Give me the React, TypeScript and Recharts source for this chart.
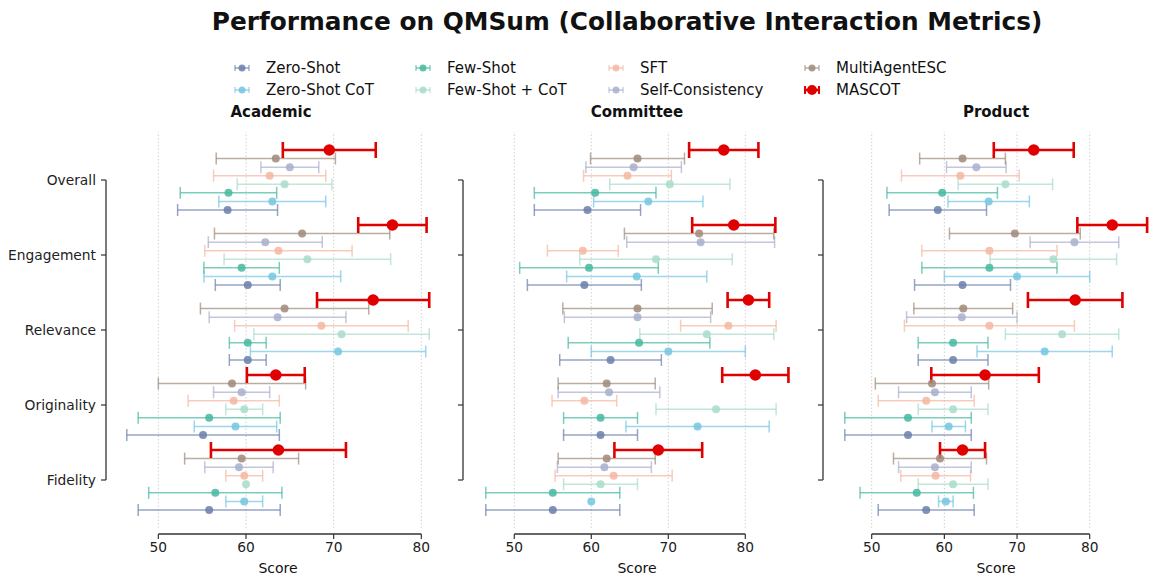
import { ScatterChart, Scatter, XAxis, YAxis, ErrorBar, ReferenceLine } from "recharts";

const FONT = '"DejaVu Sans", sans-serif';

const methods = ["Zero-Shot", "Zero-Shot CoT", "Few-Shot", "Few-Shot + CoT", "SFT", "Self-Consistency", "MultiAgentESC", "MASCOT"];
const colors = ["#6b7fab", "#74c6e0", "#45b8a0", "#a8dccb", "#f5b6a0", "#a9afcc", "#a08a7a", "#e00000"];
const metrics = ["Overall", "Engagement", "Relevance", "Originality", "Fidelity"];
const xTicks = [50, 60, 70, 80];

// rows: methods, columns: metrics
const academicScores = [
  [57.9, 60.2, 60.2, 55.1, 55.8],
  [63.0, 63.0, 70.5, 58.8, 59.8],
  [58.0, 59.5, 60.2, 55.8, 56.5],
  [64.4, 67.0, 70.9, 59.8, 60.0],
  [62.7, 63.7, 68.6, 58.6, 59.8],
  [65.0, 62.2, 63.6, 59.5, 59.2],
  [63.4, 66.4, 64.4, 58.4, 59.5],
  [69.5, 76.7, 74.5, 63.4, 63.7],
];
const academicErrors = [
  [5.7, 3.7, 2.1, 8.7, 8.1],
  [6.1, 7.8, 10.0, 4.7, 2.1],
  [5.5, 4.3, 2.1, 8.1, 7.6],
  [5.4, 9.5, 10.0, 2.1, 0],
  [6.4, 8.4, 9.9, 5.2, 2.1],
  [3.3, 6.5, 7.8, 3.2, 3.9],
  [6.8, 10.0, 9.6, 8.4, 6.5],
  [5.3, 3.9, 6.4, 3.3, 7.7],
];

const committeeScores = [
  [59.5, 59.1, 62.5, 61.2, 55.0],
  [67.4, 65.9, 70.0, 73.8, 60.0],
  [60.5, 59.7, 66.2, 61.2, 55.0],
  [70.2, 68.4, 75.0, 76.2, 61.2],
  [64.7, 58.9, 77.8, 59.1, 62.9],
  [65.5, 74.2, 66.0, 62.3, 61.7],
  [66.0, 74.0, 66.0, 62.0, 62.0],
  [77.2, 78.5, 80.4, 81.3, 68.7],
];
const committeeErrors = [
  [6.9, 7.4, 6.6, 4.8, 8.7],
  [7.1, 9.1, 10.0, 9.3, 0],
  [7.9, 9.0, 9.2, 4.8, 8.7],
  [7.8, 9.9, 8.7, 7.8, 4.8],
  [5.7, 4.6, 6.2, 4.2, 7.6],
  [6.2, 9.6, 9.5, 6.6, 6.1],
  [6.1, 9.7, 9.7, 6.3, 6.3],
  [4.5, 5.4, 2.7, 4.3, 5.7],
];

const productScores = [
  [59.1, 62.5, 61.2, 55.0, 57.5],
  [66.1, 70.0, 73.8, 60.6, 60.2],
  [59.7, 66.2, 61.2, 55.0, 56.2],
  [68.4, 75.0, 76.2, 61.2, 61.2],
  [62.2, 66.2, 66.2, 57.5, 58.8],
  [64.4, 77.9, 62.4, 58.7, 58.7],
  [62.5, 69.7, 62.6, 58.3, 59.4],
  [72.3, 83.1, 78.0, 65.6, 62.5],
];
const productErrors = [
  [6.7, 6.6, 4.8, 8.7, 6.6],
  [5.6, 10.0, 9.3, 2.3, 1.0],
  [7.6, 9.3, 4.8, 8.7, 7.8],
  [6.5, 8.7, 7.8, 4.8, 4.8],
  [8.1, 9.3, 11.7, 6.6, 4.8],
  [4.1, 6.1, 7.6, 5.0, 5.0],
  [5.9, 9.0, 6.8, 7.8, 6.4],
  [5.5, 4.8, 6.5, 7.4, 3.1],
];

const Y_DOMAIN: [number, number] = [-0.72, 4.64];
const AXES_BOTTOM = -0.64;

const rowsFor = (scores: number[][], errors: number[][], m: number) =>
  metrics.map((_, k) => ({
    x: scores[m][k],
    y: 4 - k + (-0.4 + (m * 0.8) / 7),
    err: errors[m][k],
  }));

type PanelProps = {
  scores: number[][];
  errors: number[][];
  width: number;
  yAxisWidth: number;
  domain: [number, number];
  showLabels: boolean;
};

function Panel({ scores, errors, width, yAxisWidth, domain, showLabels }: PanelProps) {
  return (
    <ScatterChart width={width} height={578} margin={{ top: 132, right: 0, bottom: 14, left: 0 }}>
      <XAxis
        type="number"
        dataKey="x"
        domain={domain}
        allowDataOverflow
        ticks={xTicks}
        axisLine={false}
        tickSize={5}
        tickMargin={3}
        tickLine={{ stroke: "#333", strokeWidth: 1.2 }}
        tick={{ fill: "#222", fontSize: 13.8, fontFamily: FONT }}
        height={30}
      />
      <YAxis
        type="number"
        dataKey="y"
        domain={Y_DOMAIN}
        allowDataOverflow
        ticks={[0, 1, 2, 3, 4]}
        width={yAxisWidth}
        axisLine={false}
        tickSize={5}
        tickMargin={5}
        tickLine={{ stroke: "#333", strokeWidth: 1.2 }}
        tickFormatter={(v: number) => (showLabels ? metrics[4 - v] : "")}
        tick={{ fill: "#222", fontSize: 13.8, fontFamily: FONT }}
      />
      {xTicks.map((t) => (
        <ReferenceLine
          key={t}
          segment={[{ x: t, y: AXES_BOTTOM }, { x: t, y: Y_DOMAIN[1] }]}
          stroke="#cccccc"
          strokeWidth={0.9}
          strokeDasharray="1.5 2"
          ifOverflow="visible"
        />
      ))}
      <ReferenceLine
        segment={[{ x: domain[0], y: 0 }, { x: domain[0], y: 4 }]}
        stroke="#333"
        strokeWidth={1.3}
        ifOverflow="visible"
      />
      <ReferenceLine
        segment={[{ x: 50, y: Y_DOMAIN[0] }, { x: 80, y: Y_DOMAIN[0] }]}
        stroke="#333"
        strokeWidth={1.3}
        ifOverflow="visible"
      />
      {methods.map((name, m) => {
        const main = name === "MASCOT";
        return (
          <Scatter
            key={name}
            name={name}
            data={rowsFor(scores, errors, m)}
            isAnimationActive={false}
            shape={(p: any) => (
              <circle cx={p.cx} cy={p.cy} r={main ? 5.8 : 4} fill={colors[m]} fillOpacity={main ? 1 : 0.85} />
            )}
          >
            <ErrorBar
              dataKey="err"
              direction="x"
              width={main ? 8 : 6}
              stroke={colors[m]}
              strokeWidth={main ? 2.6 : 1.5}
              strokeOpacity={main ? 1 : 0.7}
              isAnimationActive={false}
            />
          </Scatter>
        );
      })}
    </ScatterChart>
  );
}

const panels = [
  { title: "Academic", scores: academicScores, errors: academicErrors, left: 0, width: 450, yAxisWidth: 106, domain: [44.03, 83.27] as [number, number], titleX: 271, labelX: 278 },
  { title: "Committee", scores: committeeScores, errors: committeeErrors, left: 455, width: 353, yAxisWidth: 8, domain: [43.34, 88.14] as [number, number], titleX: 637, labelX: 637 },
  { title: "Product", scores: productScores, errors: productErrors, left: 815, width: 338, yAxisWidth: 8, domain: [43.3, 88.71] as [number, number], titleX: 996, labelX: 996 },
];

const legendCols = [266, 447, 640, 836];
const legendRows = [68, 90];

function LegendMarker({ color, main }: { color: string; main: boolean }) {
  return (
    <svg width={20} height={14} style={{ position: "absolute", left: -34, top: -7 }}>
      <line x1={3} y1={7} x2={17} y2={7} stroke={color} strokeWidth={main ? 2.6 : 1.5} strokeOpacity={main ? 1 : 0.7} />
      <line x1={3} y1={main ? 3 : 4} x2={3} y2={main ? 11 : 10} stroke={color} strokeWidth={main ? 2 : 1.3} strokeOpacity={main ? 1 : 0.7} />
      <line x1={17} y1={main ? 3 : 4} x2={17} y2={main ? 11 : 10} stroke={color} strokeWidth={main ? 2 : 1.3} strokeOpacity={main ? 1 : 0.7} />
      <circle cx={10} cy={7} r={main ? 5 : 3.5} fill={color} fillOpacity={main ? 1 : 0.85} />
    </svg>
  );
}

export default function App() {
  return (
    <div style={{ position: "absolute", left: 0, top: 0, width: 1153, height: 578, background: "#fff", fontFamily: FONT, color: "#111", overflow: "hidden" }}>
      <div style={{ position: "absolute", left: 627 - 500, width: 1000, top: 7, textAlign: "center", fontSize: 24.8, fontWeight: "bold", lineHeight: "30px", whiteSpace: "nowrap" }}>
        Performance on QMSum (Collaborative Interaction Metrics)
      </div>
      {methods.map((name, m) => {
        const col = Math.floor(m / 2);
        const row = m % 2;
        return (
          <div key={name} style={{ position: "absolute", left: legendCols[col], top: legendRows[row] }}>
            <LegendMarker color={colors[m]} main={name === "MASCOT"} />
            <span style={{ position: "absolute", left: 0, top: -10, fontSize: 15, lineHeight: "20px", whiteSpace: "nowrap" }}>{name}</span>
          </div>
        );
      })}
      {panels.map((p) => (
        <div key={p.title}>
          <div style={{ position: "absolute", left: p.titleX - 100, width: 200, top: 102, textAlign: "center", fontSize: 15, fontWeight: "bold", lineHeight: "20px" }}>
            {p.title}
          </div>
          <div style={{ position: "absolute", left: p.left, top: 0 }}>
            <Panel scores={p.scores} errors={p.errors} width={p.width} yAxisWidth={p.yAxisWidth} domain={p.domain} showLabels={p.title === "Academic"} />
          </div>
          <div style={{ position: "absolute", left: p.labelX - 100, width: 200, top: 559, textAlign: "center", fontSize: 14, lineHeight: "18px" }}>
            Score
          </div>
        </div>
      ))}
    </div>
  );
}
